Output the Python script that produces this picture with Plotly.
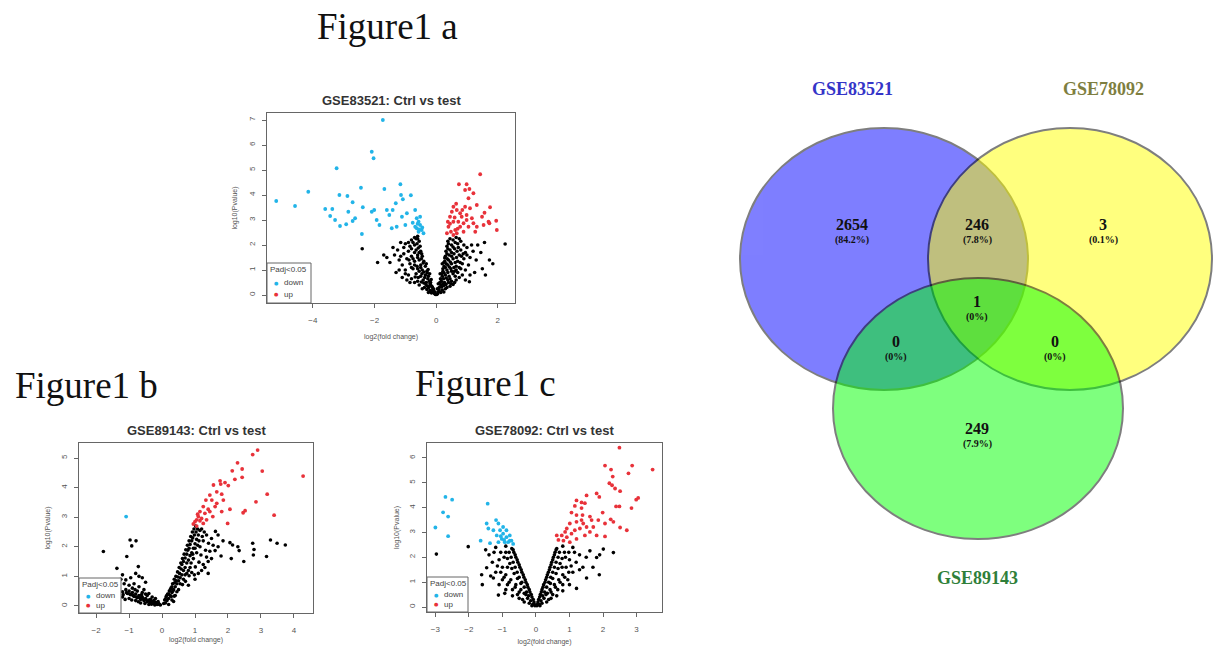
import plotly.graph_objects as go

# ---------------- DATA ----------------
# Panel a: GSE83521 volcano (log2 fold change, -log10 p)
a_down = [(-1.73, 7.0), (-2.09, 5.73), (-2.03, 5.47), (-3.23, 5.07), (-4.15, 4.13), (-5.19, 3.76),
          (-4.58, 3.56), (-2.44, 4.29), (-1.68, 4.24), (-1.16, 4.43), (-3.14, 4.0), (-2.88, 3.96),
          (-2.71, 3.71), (-3.6, 3.44), (-3.37, 3.44), (-3.44, 3.16), (-3.28, 3.0), (-3.12, 2.76),
          (-2.92, 2.83), (-2.85, 3.33), (-2.63, 3.07), (-2.71, 2.96), (-2.38, 3.51), (-2.09, 3.33),
          (-2.01, 3.4), (-1.93, 3.0), (-1.84, 2.8), (-1.6, 3.4), (-1.41, 3.4), (-1.52, 3.2),
          (-1.31, 3.67), (-1.14, 4.0), (-1.08, 3.83), (-0.82, 3.99), (-1.11, 3.13), (-0.95, 3.27),
          (-1.44, 2.67), (-1.28, 2.73), (-1.0, 2.8), (-2.41, 2.44), (-0.68, 3.4), (-0.63, 3.07),
          (-0.57, 2.93), (-0.52, 2.8), (-0.63, 2.67), (-0.47, 2.6), (-0.57, 2.53), (-0.41, 2.47),
          (-0.68, 2.73), (-0.76, 2.89), (-0.52, 3.13), (-0.45, 2.7), (-0.55, 2.62), (-0.6, 2.85)]
a_up = [(1.43, 4.83), (0.74, 4.43), (0.99, 4.43), (1.08, 4.24), (0.94, 4.2), (1.21, 4.07),
        (1.05, 3.87), (1.32, 3.6), (0.94, 3.53), (1.1, 3.47), (1.75, 3.51), (1.57, 3.29),
        (1.7, 2.93), (1.95, 2.97), (1.54, 2.8), (1.32, 2.73), (1.27, 2.53), (0.56, 3.53),
        (0.67, 3.4), (0.78, 3.27), (0.45, 3.13), (0.56, 2.93), (0.4, 2.73), (0.48, 2.53),
        (0.62, 2.6), (0.78, 2.73), (0.89, 2.87), (0.99, 3.0), (0.72, 2.93), (0.83, 3.13),
        (0.38, 2.93), (0.51, 3.33), (0.99, 3.2), (1.16, 3.07), (1.21, 2.87), (1.05, 2.73),
        (0.67, 2.47), (0.35, 2.47), (0.89, 2.53), (0.56, 2.4), (1.97, 2.6), (1.49, 3.13),
        (1.73, 2.87), (0.6, 3.1), (0.7, 2.65), (0.45, 2.85), (0.85, 3.4), (0.65, 3.65)]
a_ns = [(-0.05, 0.05), (-0.1, 0.12), (-0.15, 0.08), (-0.2, 0.18), (-0.25, 0.1), (-0.3, 0.22),
        (-0.12, 0.3), (-0.18, 0.4), (-0.28, 0.35), (-0.38, 0.3), (-0.45, 0.25), (-0.55, 0.4),
        (-0.22, 0.55), (-0.32, 0.5), (-0.42, 0.6), (-0.6, 0.55), (-0.7, 0.5), (-0.8, 0.65),
        (-0.25, 0.75), (-0.35, 0.8), (-0.5, 0.75), (-0.65, 0.85), (-0.9, 0.8), (-0.3, 0.95),
        (-0.45, 1.0), (-0.55, 0.95), (-0.75, 1.05), (-1.0, 1.0), (-0.35, 1.15), (-0.5, 1.2),
        (-0.62, 1.15), (-0.85, 1.25), (-1.1, 1.2), (-0.4, 1.35), (-0.55, 1.4), (-0.7, 1.35),
        (-0.95, 1.45), (-1.2, 1.4), (-0.45, 1.55), (-0.6, 1.6), (-0.8, 1.55), (-1.05, 1.65),
        (-0.5, 1.75), (-0.65, 1.8), (-0.9, 1.75), (-1.25, 1.8), (-0.52, 1.95), (-0.7, 2.0),
        (-0.85, 1.95), (-1.0, 2.05), (-0.55, 2.15), (-0.65, 2.25), (-0.8, 2.2), (-1.15, 2.1),
        (-0.6, 2.35), (-1.7, 1.6), (-1.4, 1.9), (-2.4, 1.85), (-1.3, 0.9), (-1.5, 1.3),
        (-0.95, 0.6), (-1.1, 0.7), (-0.08, 0.2), (-0.16, 0.62), (-0.26, 1.02),
        (-0.02, 0.02), (-0.07, 0.1), (-0.12, 0.18), (-0.04, 0.12), (-0.09, 0.25), (-0.14, 0.35),
        (-0.2, 0.45), (-0.24, 0.3), (-0.33, 0.42), (-0.4, 0.48), (-0.48, 0.52), (-0.18, 0.5),
        (-0.27, 0.65), (-0.37, 0.7), (-0.46, 0.85), (-0.58, 0.7), (-0.68, 0.72), (-0.21, 0.85),
        (-0.29, 0.88), (-0.4, 0.92), (-0.5, 1.1), (-0.6, 1.05), (-0.7, 1.2), (-0.8, 1.1),
        (-0.32, 1.25), (-0.42, 1.28), (-0.48, 1.45), (-0.6, 1.5), (-0.75, 1.45), (-0.88, 1.4),
        (-0.47, 1.65), (-0.55, 1.7), (-0.7, 1.7), (-0.8, 1.85), (-0.58, 1.88), (-0.62, 2.05),
        (-0.75, 2.1), (-0.9, 2.1), (-0.6, 2.25), (-0.7, 2.3), (-1.35, 1.6), (-1.6, 1.5),
        (-1.9, 1.3), (-1.2, 1.0), (-0.85, 0.5), (-1.0, 0.85), (-1.15, 1.55), (-1.05, 1.9),
        (0.05, 0.05), (0.1, 0.15), (0.15, 0.1), (0.2, 0.2), (0.25, 0.12), (0.3, 0.25),
        (0.1, 0.3), (0.15, 0.4), (0.25, 0.38), (0.35, 0.3), (0.45, 0.35), (0.55, 0.42),
        (0.17, 0.55), (0.27, 0.5), (0.38, 0.6), (0.5, 0.55), (0.65, 0.6), (0.75, 0.7),
        (0.2, 0.75), (0.3, 0.8), (0.42, 0.75), (0.55, 0.85), (0.7, 0.9), (0.85, 0.8),
        (0.22, 0.95), (0.35, 1.0), (0.48, 1.05), (0.6, 0.95), (0.8, 1.05), (0.95, 1.0),
        (0.26, 1.15), (0.38, 1.2), (0.5, 1.25), (0.65, 1.15), (0.85, 1.25), (1.05, 1.2),
        (0.28, 1.35), (0.4, 1.4), (0.55, 1.45), (0.7, 1.35), (0.9, 1.45), (1.1, 1.5),
        (0.3, 1.55), (0.42, 1.6), (0.58, 1.65), (0.75, 1.6), (0.95, 1.7), (0.32, 1.75),
        (0.45, 1.8), (0.6, 1.85), (0.8, 1.8), (1.0, 1.9), (0.35, 1.95), (0.5, 2.0),
        (0.7, 2.05), (0.9, 2.0), (0.38, 2.15), (0.55, 2.2), (0.75, 2.25), (1.15, 2.0),
        (1.3, 1.4), (1.57, 2.1), (1.73, 1.4), (1.84, 1.25), (1.08, 0.53), (2.24, 2.04),
        (1.25, 0.9), (1.45, 1.7), (0.07, 0.45), (0.13, 0.85), (0.2, 1.25),
        (0.02, 0.02), (0.06, 0.12), (0.04, 0.25), (0.09, 0.22), (0.12, 0.5), (0.18, 0.32),
        (0.22, 0.45), (0.32, 0.42), (0.4, 0.5), (0.48, 0.45), (0.6, 0.5), (0.14, 0.65),
        (0.24, 0.65), (0.33, 0.68), (0.45, 0.65), (0.62, 0.75), (0.18, 0.85), (0.26, 0.88),
        (0.38, 0.9), (0.5, 0.95), (0.65, 1.0), (0.75, 1.1), (0.22, 1.05), (0.3, 1.1),
        (0.43, 1.12), (0.58, 1.1), (0.25, 1.3), (0.33, 1.25), (0.46, 1.32), (0.62, 1.3),
        (0.78, 1.3), (0.28, 1.48), (0.36, 1.45), (0.5, 1.55), (0.66, 1.5), (0.82, 1.55),
        (0.35, 1.65), (0.5, 1.7), (0.68, 1.75), (0.88, 1.65), (0.38, 1.85), (0.55, 1.92),
        (0.72, 1.9), (0.4, 2.05), (0.62, 2.1), (0.8, 2.15), (0.45, 2.25), (0.65, 2.3),
        (1.0, 1.6), (1.2, 1.75), (1.35, 2.0), (1.1, 0.8), (0.95, 0.6), (1.5, 1.05), (1.6, 0.8)]

# Panel b: GSE89143 volcano
b_down = [(-1.09, 3.02)]
b_up = [(2.9, 5.27), (2.75, 5.12), (2.29, 4.84), (2.13, 4.57), (2.43, 4.63), (3.04, 4.56),
        (2.21, 4.28), (2.43, 4.35), (4.28, 4.39), (1.76, 4.23), (1.78, 4.12), (2.01, 4.07),
        (1.56, 4.09), (1.66, 3.86), (1.45, 3.75), (1.81, 3.78), (1.33, 3.58), (1.51, 3.58),
        (1.86, 3.58), (1.61, 3.36), (1.25, 3.36), (1.15, 3.19), (1.3, 3.13), (1.45, 3.19),
        (1.81, 3.19), (1.54, 3.02), (2.06, 3.27), (2.52, 3.22), (2.46, 3.15), (2.85, 3.52),
        (3.19, 3.78), (3.4, 3.07), (1.99, 2.79), (1.05, 2.91), (1.1, 3.02), (1.0, 2.85),
        (1.2, 2.96), (0.95, 2.77), (1.35, 2.91), (1.05, 2.7), (1.25, 2.79), (1.4, 3.27),
        (1.66, 3.47), (1.91, 4.17), (1.15, 2.88), (1.08, 3.1)]
b_ns = [(-0.05, 0.03), (-0.1, 0.08), (-0.15, 0.05), (-0.2, 0.12), (-0.25, 0.08), (-0.3, 0.15),
        (-0.35, 0.1), (-0.4, 0.2), (-0.45, 0.14), (-0.5, 0.25), (-0.55, 0.18), (-0.6, 0.3),
        (-0.65, 0.22), (-0.7, 0.35), (-0.75, 0.28), (-0.8, 0.4), (-0.85, 0.32), (-0.9, 0.45),
        (-0.95, 0.38), (-1.0, 0.5), (-1.05, 0.42), (-1.1, 0.55), (-1.2, 0.48), (-1.3, 0.6),
        (-0.3, 0.3), (-0.45, 0.35), (-0.6, 0.45), (-0.75, 0.5), (-0.9, 0.6), (-1.0, 0.7),
        (-1.15, 0.75), (-1.25, 0.9), (-0.55, 0.55), (-0.7, 0.65), (-0.85, 0.75),
        (-0.5, 0.4), (-0.2, 0.25), (-0.35, 0.22), (-0.4, 0.05), (-0.65, 0.1), (-0.8, 0.18),
        (-1.0, 0.25), (-1.2, 0.3), (-1.78, 1.84), (-0.97, 2.23), (-0.79, 2.2), (-1.07, 1.67),
        (-0.92, 2.03), (-0.72, 1.33), (-1.37, 1.27), (-0.6, 0.95), (-0.8, 1.1), (-0.5, 0.8),
        (-1.2, 1.05),
        (-0.08, 0.05), (-0.18, 0.1), (-0.28, 0.12), (-0.38, 0.15), (-0.48, 0.2), (-0.58, 0.24),
        (-0.68, 0.28), (-0.78, 0.3), (-0.88, 0.35), (-0.98, 0.4), (-1.08, 0.45), (-1.18, 0.38),
        (-0.22, 0.03), (-0.32, 0.06), (-0.52, 0.08), (-0.72, 0.14), (-0.92, 0.2), (-1.12, 0.22),
        (-0.62, 0.38), (-0.82, 0.55), (-0.4, 0.42), (-1.1, 0.88), (-0.95, 0.95), (-0.7, 1.0),
        (-1.3, 0.35), (-0.25, 0.18), (-0.12, 0.15),
        (0.05, 0.08), (0.08, 0.2), (0.1, 0.1), (0.12, 0.3), (0.15, 0.18), (0.17, 0.4),
        (0.2, 0.25), (0.22, 0.5), (0.25, 0.35), (0.27, 0.6), (0.3, 0.45), (0.32, 0.75),
        (0.35, 0.55), (0.37, 0.9), (0.4, 0.65), (0.42, 1.0), (0.45, 0.75), (0.47, 1.15),
        (0.5, 0.85), (0.52, 1.3), (0.55, 0.95), (0.57, 1.45), (0.6, 1.05), (0.62, 1.6),
        (0.65, 1.2), (0.67, 1.75), (0.7, 1.3), (0.72, 1.9), (0.75, 1.45), (0.77, 2.05),
        (0.8, 1.55), (0.82, 2.2), (0.85, 1.7), (0.87, 2.35), (0.9, 1.8), (0.92, 2.5),
        (0.95, 1.95), (0.97, 2.6), (1.0, 2.1), (1.02, 2.7), (1.05, 2.25), (1.1, 2.4),
        (1.15, 2.55), (1.2, 2.6), (0.62, 0.72), (0.71, 0.83), (0.82, 1.02), (0.9, 1.13),
        (1.01, 1.32), (1.12, 1.48), (1.18, 1.72), (1.32, 1.88), (1.41, 2.12), (1.5, 2.28),
        (1.62, 2.52), (0.5, 0.55), (0.85, 1.3), (0.95, 1.6), (1.05, 1.8), (1.15, 2.0),
        (1.25, 2.2), (1.35, 2.4), (0.75, 1.1), (1.0, 0.9), (1.3, 1.3), (1.5, 1.6),
        (1.79, 1.69), (1.61, 1.87), (2.06, 2.14), (2.14, 2.06), (2.34, 1.87), (2.48, 1.5),
        (2.75, 2.12), (2.79, 1.91), (2.77, 1.72), (3.17, 1.67), (3.29, 2.23), (3.49, 2.12),
        (3.74, 2.06), (0.3, 0.2), (0.4, 0.35), (0.2, 0.05), (0.35, 0.15), (1.7, 2.4),
        (1.2, 1.2), (1.4, 1.5),
        (0.1, 0.22), (0.14, 0.35), (0.2, 0.4), (0.25, 0.55), (0.3, 0.65), (0.33, 0.5),
        (0.38, 0.78), (0.43, 0.85), (0.48, 0.98), (0.53, 1.1), (0.58, 1.25), (0.6, 1.4),
        (0.65, 1.5), (0.7, 1.62), (0.75, 1.75), (0.78, 1.88), (0.82, 1.95), (0.85, 2.08),
        (0.9, 2.2), (0.93, 2.3), (0.98, 2.4), (1.03, 2.5), (1.08, 2.6), (0.55, 0.75),
        (0.65, 0.9), (0.7, 1.05), (0.8, 1.2), (0.88, 1.45), (0.93, 1.75), (1.0, 1.95),
        (1.08, 2.05), (1.12, 2.2), (1.22, 2.35), (1.28, 2.5), (0.45, 0.48), (0.37, 0.33),
        (0.28, 0.32), (1.1, 1.1), (1.25, 1.4), (1.35, 1.65), (1.45, 1.85), (1.55, 2.05),
        (0.8, 0.7), (0.98, 1.05), (1.4, 1.1), (1.7, 2.0), (1.85, 2.2), (2.3, 2.0), (2.1, 1.6)]

# Panel c: GSE78092 volcano
c_down = [(-2.7, 4.43), (-2.5, 4.32), (-2.77, 3.81), (-2.62, 3.64), (-3.0, 3.2), (-2.62, 2.85),
          (-1.44, 4.16), (-1.47, 3.36), (-1.19, 3.5), (-1.12, 3.36), (-1.42, 3.16), (-1.27, 3.09),
          (-1.07, 3.09), (-1.17, 2.88), (-0.98, 2.95), (-0.88, 3.09), (-1.02, 2.74), (-0.88, 2.81),
          (-0.78, 2.88), (-0.73, 2.67), (-0.83, 2.61), (-0.93, 2.61), (-0.68, 2.54), (-1.12, 2.61),
          (-1.65, 2.67), (-1.37, 2.57), (-0.98, 3.22), (-0.78, 2.67), (-0.95, 2.7), (-1.05, 2.85)]
c_up = [(2.49, 6.41), (2.06, 5.69), (2.24, 5.53), (2.87, 5.69), (3.48, 5.53), (2.76, 5.38),
        (2.29, 5.25), (2.19, 4.98), (2.27, 4.9), (2.36, 4.77), (2.51, 4.66), (1.81, 4.57),
        (1.89, 4.43), (2.99, 4.32), (3.05, 4.39), (1.51, 4.49), (1.21, 4.29), (1.36, 4.21),
        (1.46, 4.18), (1.16, 4.07), (1.36, 3.98), (1.06, 3.8), (1.21, 3.7), (1.39, 3.7),
        (1.61, 3.64), (1.66, 3.5), (1.99, 3.8), (2.39, 4.05), (2.49, 4.05), (2.85, 3.98),
        (2.23, 3.53), (2.31, 3.43), (2.06, 3.36), (2.51, 3.2), (2.71, 3.09), (2.06, 2.84),
        (1.81, 2.88), (1.41, 3.36), (1.21, 3.43), (1.01, 3.36), (0.87, 3.02), (0.77, 2.88),
        (0.92, 2.81), (0.67, 2.7), (0.82, 2.67), (1.06, 2.95), (1.16, 3.09), (1.31, 3.16),
        (1.51, 3.22), (1.61, 3.02), (1.46, 2.88), (1.21, 2.74), (1.01, 2.61), (1.36, 3.5),
        (1.71, 3.22), (1.86, 3.5), (0.92, 3.16), (0.62, 2.88)]
c_ns = [(-0.03, 0.05), (-0.06, 0.2), (-0.1, 0.1), (-0.12, 0.4), (-0.16, 0.25), (-0.18, 0.6),
        (-0.22, 0.45), (-0.24, 0.8), (-0.28, 0.6), (-0.3, 1.0), (-0.35, 0.8), (-0.36, 1.2),
        (-0.42, 1.0), (-0.42, 1.4), (-0.5, 1.2), (-0.48, 1.6), (-0.56, 1.4), (-0.54, 1.8),
        (-0.62, 1.6), (-0.6, 2.0), (-0.68, 1.8), (-0.66, 2.2), (-0.74, 2.0), (-0.72, 2.35),
        (-0.8, 2.2), (-0.3, 0.5), (-0.45, 0.7), (-0.6, 0.9), (-0.75, 1.1), (-0.9, 1.3),
        (-1.0, 1.6), (-1.1, 1.9), (-0.85, 1.6), (-0.95, 2.0), (-1.05, 2.2), (-0.4, 0.3),
        (-0.55, 0.5), (-0.7, 0.7), (-0.85, 0.9), (-1.0, 1.1), (-1.2, 1.4), (-1.3, 1.8),
        (-1.4, 2.1), (-0.2, 0.15), (-0.35, 0.2), (-0.5, 0.35), (-2.02, 2.43), (-2.97, 2.13),
        (-1.62, 1.3), (-1.47, 1.58), (-1.27, 1.17), (-1.12, 0.48), (-0.93, 0.55), (-1.6, 0.9),
        (-1.5, 2.3), (-1.2, 2.4), (-0.9, 2.45),
        (-0.05, 0.12), (-0.08, 0.3), (-0.14, 0.5), (-0.2, 0.7), (-0.26, 0.9), (-0.32, 1.1),
        (-0.38, 1.3), (-0.44, 1.5), (-0.5, 1.7), (-0.56, 1.9), (-0.62, 2.1), (-0.68, 2.3),
        (-0.25, 0.35), (-0.35, 0.55), (-0.45, 0.95), (-0.55, 1.15), (-0.65, 1.35), (-0.72, 1.55),
        (-0.78, 1.75), (-0.85, 1.95), (-0.9, 2.2), (-0.12, 0.05), (-0.5, 0.6), (-0.62, 0.8),
        (-0.8, 1.0), (-0.95, 1.2), (-1.05, 1.4), (-1.15, 1.65), (-0.7, 0.45), (-0.9, 0.7),
        (-1.1, 0.9), (-1.25, 2.2), (-1.35, 1.25),
        (0.03, 0.05), (0.06, 0.2), (0.1, 0.1), (0.11, 0.4), (0.15, 0.25), (0.16, 0.6),
        (0.2, 0.45), (0.21, 0.8), (0.26, 0.6), (0.27, 1.0), (0.32, 0.8), (0.32, 1.2),
        (0.38, 1.0), (0.37, 1.4), (0.44, 1.2), (0.42, 1.6), (0.5, 1.4), (0.47, 1.8),
        (0.55, 1.6), (0.52, 2.0), (0.6, 1.8), (0.57, 2.2), (0.66, 2.0), (0.62, 2.35),
        (0.7, 2.2), (0.3, 0.5), (0.42, 0.7), (0.55, 0.9), (0.68, 1.1), (0.8, 1.3),
        (0.9, 1.6), (1.0, 1.9), (0.78, 1.6), (0.88, 2.0), (0.98, 2.2), (0.38, 0.3),
        (0.5, 0.5), (0.65, 0.7), (0.8, 0.9), (0.95, 1.1), (1.1, 1.4), (1.2, 1.8),
        (1.3, 2.1), (0.18, 0.15), (0.32, 0.2), (0.45, 0.35), (1.61, 2.26), (1.81, 1.99),
        (1.89, 1.3), (1.51, 1.17), (1.21, 0.75), (2.01, 2.33), (2.31, 2.19), (1.4, 1.6),
        (1.1, 2.4), (1.5, 2.0), (0.8, 2.45),
        (0.05, 0.12), (0.08, 0.3), (0.13, 0.5), (0.18, 0.7), (0.23, 0.9), (0.29, 1.1),
        (0.34, 1.3), (0.4, 1.5), (0.45, 1.7), (0.5, 1.9), (0.55, 2.1), (0.6, 2.3),
        (0.24, 0.35), (0.34, 0.55), (0.43, 0.95), (0.5, 1.15), (0.6, 1.35), (0.66, 1.55),
        (0.72, 1.75), (0.78, 1.95), (0.85, 2.2), (0.12, 0.05), (0.45, 0.6), (0.58, 0.8),
        (0.72, 1.0), (0.86, 1.2), (0.98, 1.4), (1.05, 1.65), (0.62, 0.45), (0.8, 0.65),
        (1.0, 0.9), (1.15, 2.2), (1.3, 1.5), (1.7, 1.6), (1.9, 2.1)]

panel_titles = ["GSE83521: Ctrl vs test", "GSE89143: Ctrl vs test", "GSE78092: Ctrl vs test"]
a_xticks = [-4, -2, 0, 2]
a_yticks = [0, 1, 2, 3, 4, 5, 6, 7]
b_xticks = [-2, -1, 0, 1, 2, 3, 4]
b_yticks = [0, 1, 2, 3, 4, 5]
c_xticks = [-3, -2, -1, 0, 1, 2, 3]
c_yticks = [0, 1, 2, 3, 4, 5, 6]
legend_title = "Padj<0.05"
legend_labels = ["down", "up"]

# Venn diagram
venn_sets = ["GSE83521", "GSE78092", "GSE89143"]
venn_regions = ["A only", "A&B", "B only", "A&B&C", "A&C", "B&C", "C only"]
venn_counts = [2654, 246, 3, 1, 0, 0, 249]

# ---------------- FIGURE ----------------
W, H = 1213, 648
def px(x):
    return x / W
def py(y):
    return 1 - y / H

DOWN, UP, NS = "#22B4E8", "#E8323A", "#000000"
AXC = "#555555"
fig = go.Figure()

panels = [
    dict(ax="", down=a_down, up=a_up, ns=a_ns, box=(267, 515, 113, 303), xr=(-5.49, 2.56),
         yr=(-0.32, 7.28), xt=a_xticks, yt=a_yticks, xstand=10, ystand=9, leg=(44, 40)),
    dict(ax="2", down=b_down, up=b_up, ns=b_ns, box=(79, 313, 443, 613), xr=(-2.52, 4.58),
         yr=(-0.24, 5.51), xt=b_xticks, yt=b_yticks, xstand=3, ystand=8, leg=(42, 35)),
    dict(ax="3", down=c_down, up=c_up, ns=c_ns, box=(427, 662, 443, 612), xr=(-3.25, 3.76),
         yr=(-0.2, 6.6), xt=c_xticks, yt=c_yticks, xstand=6, ystand=7, leg=(41, 35)),
]

annotations = []
shapes = []
layout_axes = {}
for i, p in enumerate(panels):
    xa, ya = "x" + p["ax"], "y" + p["ax"]
    fig.add_trace(go.Scatter(x=[v[0] for v in p["ns"]], y=[v[1] for v in p["ns"]], mode="markers",
                             marker=dict(color=NS, size=3.6), showlegend=False, xaxis=xa, yaxis=ya,
                             hoverinfo="skip"))
    fig.add_trace(go.Scatter(x=[v[0] for v in p["down"]], y=[v[1] for v in p["down"]], mode="markers",
                             marker=dict(color=DOWN, size=3.8), name="down", xaxis=xa, yaxis=ya,
                             showlegend=False))
    fig.add_trace(go.Scatter(x=[v[0] for v in p["up"]], y=[v[1] for v in p["up"]], mode="markers",
                             marker=dict(color=UP, size=3.8), name="up", xaxis=xa, yaxis=ya,
                             showlegend=False))
    x0, x1, y0, y1 = p["box"]
    common = dict(showline=True, mirror=True, linecolor="#666", linewidth=1, ticks="outside",
                  ticklen=4, tickcolor="#666", showgrid=False, zeroline=False,
                  tickfont=dict(size=8, color=AXC, family="Liberation Sans"))
    layout_axes["xaxis" + p["ax"]] = dict(common, domain=[px(x0), px(x1)], range=list(p["xr"]),
                                          anchor=ya, tickvals=p["xt"], ticklabelstandoff=5,
                                          title=dict(text="log2(fold change)", standoff=p["xstand"],
                                                     font=dict(size=7, color=AXC, family="Liberation Sans")))
    layout_axes["yaxis" + p["ax"]] = dict(common, domain=[py(y1), py(y0)], range=list(p["yr"]),
                                          anchor=xa, tickvals=p["yt"], tickangle=-90,
                                          ticklabelstandoff=4,
                                          title=dict(text="log10(Pvalue)", standoff=p["ystand"],
                                                     font=dict(size=7, color=AXC, family="Liberation Sans")))
    annotations.append(dict(text="<b>%s</b>" % panel_titles[i], x=px((x0 + x1) / 2), y=py(y0 - 3),
                            xref="paper", yref="paper", xanchor="center", yanchor="bottom",
                            showarrow=False, font=dict(size=13, color="#333", family="Liberation Sans")))
    # legend box (bottom-left, R style)
    lw, lh = p["leg"]
    shapes.append(dict(type="rect", xref="paper", yref="paper", x0=px(x0), x1=px(x0 + lw),
                       y0=py(y1), y1=py(y1 - lh), fillcolor="white",
                       line=dict(color="#666", width=1), layer="above"))
    annotations.append(dict(text=legend_title, x=px(x0 + 1), y=py(y1 - lh + 6), xref="paper",
                            yref="paper", xanchor="left", yanchor="middle", showarrow=False,
                            font=dict(size=8, color="#444", family="Liberation Sans")))
    for k, (lab, col) in enumerate(zip(legend_labels, [DOWN, UP])):
        yy = y1 - lh + 6 + (k + 1) * (lh - 10) / 2.6 + 2
        annotations.append(dict(text="●", x=px(x0 + 9), y=py(yy), xref="paper", yref="paper",
                                xanchor="center", yanchor="middle", showarrow=False,
                                font=dict(size=5, color=col, family="DejaVu Sans")))
        annotations.append(dict(text=lab, x=px(x0 + 15), y=py(yy), xref="paper", yref="paper",
                                xanchor="left", yanchor="middle", showarrow=False,
                                font=dict(size=8, color="#444", family="Liberation Sans")))

# Figure labels
for t, (x, y) in zip(["Figure1 a", "Figure1 b", "Figure1 c"], [(387, 27), (86, 385), (485, 383)]):
    annotations.append(dict(text=t, x=px(x), y=py(y), xref="paper", yref="paper", showarrow=False,
                            xanchor="center", yanchor="middle",
                            font=dict(size=37, color="#111", family="Liberation Serif")))

# Venn axes in pixel units
VX0 = 703.5
layout_axes["xaxis4"] = dict(domain=[px(VX0), 1], range=[VX0, W], visible=False, anchor="y4")
layout_axes["yaxis4"] = dict(domain=[0, 1], range=[H, 0], visible=False, anchor="x4")

circles = [((740, 1028, 128, 390), "#0000FF"),
           ((928, 1212, 128, 390), "#FFFF00"),
           ((833, 1123, 278, 539), "#00FF00")]
for (cx0, cx1, cy0, cy1), col in circles:
    shapes.append(dict(type="circle", xref="x4", yref="y4", x0=cx0, x1=cx1, y0=cy0, y1=cy1,
                       fillcolor=col, opacity=0.5, line=dict(color="#000000", width=2), layer="below"))

set_pos = [(852, 89), (1103, 89), (977, 578)]
set_col = ["#3434C8", "#7E7E40", "#2F7F3A"]
for name, (x, y), col in zip(venn_sets, set_pos, set_col):
    annotations.append(dict(text="<b>%s</b>" % name, x=x, y=y, xref="x4", yref="y4", showarrow=False,
                            font=dict(size=18, color=col, family="Liberation Serif")))

total = sum(venn_counts)
region_pos = [(852, 226), (977, 226), (1103, 226), (977, 303), (896, 343), (1055, 343), (977, 430)]
for cnt, (x, y) in zip(venn_counts, region_pos):
    pct = round(100 * cnt / total, 1)
    pct_s = "0%" if pct == 0 else ("%.1f%%" % pct)
    annotations.append(dict(text="<b>%d</b>" % cnt, x=x, y=y - 2, xref="x4", yref="y4", showarrow=False,
                            font=dict(size=16, color="#111", family="Liberation Serif")))
    annotations.append(dict(text="<b>(%s)</b>" % pct_s, x=x, y=y + 14, xref="x4", yref="y4",
                            showarrow=False, font=dict(size=10, color="#111", family="Liberation Serif")))

fig.update_layout(width=W, height=H, margin=dict(l=0, r=0, t=0, b=0), paper_bgcolor="white",
                  plot_bgcolor="white", annotations=annotations, shapes=shapes, showlegend=False,
                  **layout_axes)
fig.write_html("out.html")
